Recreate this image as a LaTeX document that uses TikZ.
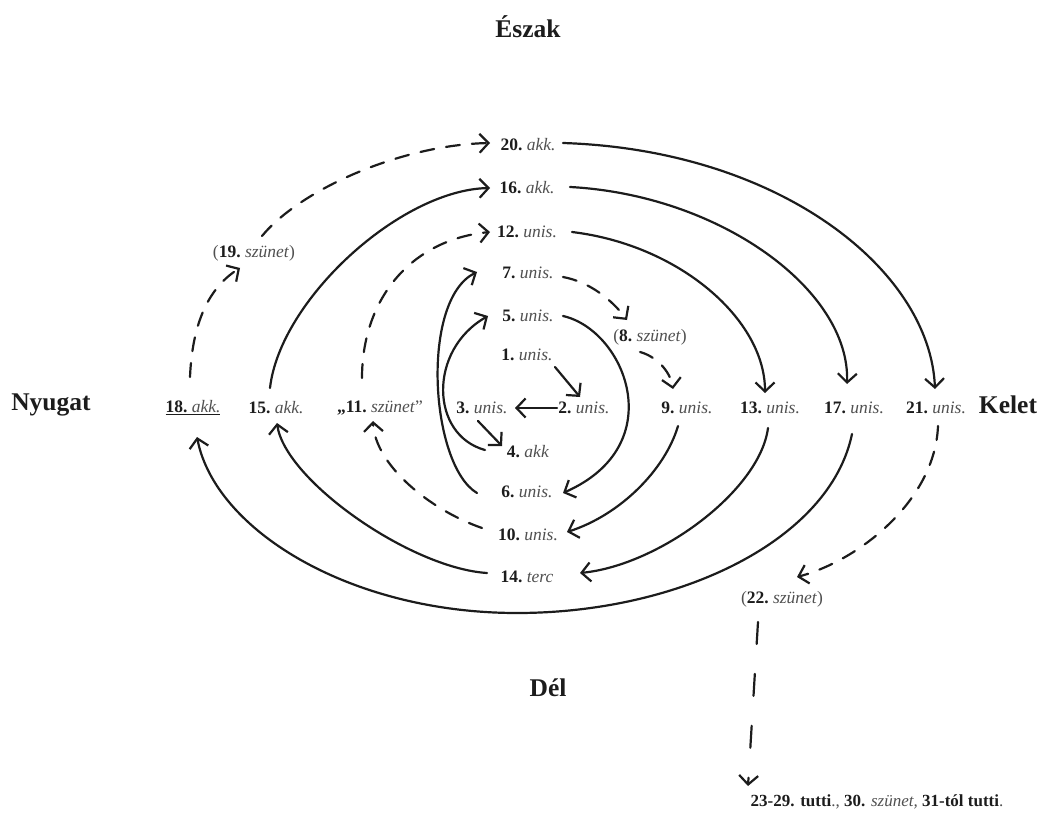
\documentclass[tikz,border=0pt]{standalone}
\usepackage{fontspec}
\setmainfont{Liberation Serif}
\usetikzlibrary{arrows.meta}
\definecolor{ink}{RGB}{28,28,28}
\definecolor{word}{RGB}{80,80,80}
% bold number followed by an italic word
\newcommand\lbl[2]{\textbf{#1}~{\color{word}\textit{#2}}}
% a rest, written in parentheses
\newcommand\rest[1]{{\color{word}(}\textbf{#1}~{\color{word}\textit{szünet})}}
\begin{document}
\begin{tikzpicture}[x=1pt,y=-1pt,
  lab/.style={inner sep=1pt, font=\fontsize{17.5}{20}\selectfont, text=ink},
  compass/.style={inner sep=1pt, font=\fontsize{25.5}{30}\selectfont\bfseries, text=ink},
  con/.style={line width=2.2pt, draw=ink, line cap=round, -{Straight Barb[length=9pt,width=19pt]}},
  gap/.style={con, dash pattern=on 14pt off 12pt},
  longgap/.style={con, dash pattern=on 22pt off 30pt}]
\useasboundingbox (0,0) rectangle (1044,821);

% compass points
\node[compass] (north) at (528,27) {Észak};
\node[compass] (west)  at (51,405) {Nyugat};
\node[compass] (east)  at (1008,405) {Kelet};
\node[compass] (south) at (548,688) {Dél};

% middle row
\node[lab] (n18) at (193,408) {\underline{\lbl{18.}{akk.}}};
\node[lab] (n15) at (276,408) {\lbl{15.}{akk.}};
\node[lab] (n11) at (380,408) {\textbf{„11.}~{\color{word}\textit{szünet}”}};
\node[lab] (n3)  at (482,408) {\lbl{3.}{unis.}};
\node[lab] (n2)  at (584,408) {\lbl{2.}{unis.}};
\node[lab] (n9)  at (687,408) {\lbl{9.}{unis.}};
\node[lab] (n13) at (770,408) {\lbl{13.}{unis.}};
\node[lab] (n17) at (854,408) {\lbl{17.}{unis.}};
\node[lab] (n21) at (936,408) {\lbl{21.}{unis.}};

% upper column
\node[lab] (n20) at (528,145) {\lbl{20.}{akk.}};
\node[lab] (n16) at (527,188) {\lbl{16.}{akk.}};
\node[lab] (n12) at (527,232) {\lbl{12.}{unis.}};
\node[lab] (n7)  at (528,273) {\lbl{7.}{unis.}};
\node[lab] (n5)  at (528,316) {\lbl{5.}{unis.}};
\node[lab] (n1)  at (527,355) {\lbl{1.}{unis.}};
\node[lab] (n8)  at (650,337) {\rest{8.}};
\node[lab] (n19) at (254,253) {\rest{19.}};

% lower column
\node[lab] (n4)  at (528,452) {\lbl{4.}{akk}};
\node[lab] (n6)  at (527,492) {\lbl{6.}{unis.}};
\node[lab] (n10) at (528,535) {\lbl{10.}{unis.}};
\node[lab] (n14) at (527,577) {\lbl{14.}{terc}};
\node[lab] (n22) at (782,599) {\rest{22.}};
\node[lab, font=\fontsize{17}{20}\selectfont] (nend) at (877,802)
  {\textbf{23-29. tutti}{\color{word}.,} \textbf{30.} {\color{word}\textit{szünet,}} \textbf{31-tól tutti}{\color{word}.}};

% connectors, in playing order
\draw[con] ([shift={(28,12)}]n1.center) -- ([shift={(-4,-11)}]n2.center);
\draw[con] ([shift={(-27,0)}]n2.center) -- ([shift={(33,0)}]n3.center);
\draw[con] ([shift={(-4,13)}]n3.center) -- ([shift={(-26,-6)}]n4.center);
\draw[con] ([shift={(-43,-2)}]n4.center) .. controls (430,435) and (428,350) .. ([shift={(-40,0)}]n5.center);
\draw[con] ([shift={(35,0)}]n5.center) .. controls (625,330) and (672,445) .. ([shift={(36,1)}]n6.center);
\draw[con] ([shift={(-50,1)}]n6.center) .. controls (430,465) and (420,300) .. ([shift={(-51,-1)}]n7.center);
\draw[gap] ([shift={(35,4)}]n7.center) .. controls (590,282) and (612,300) .. ([shift={(-23,-17)}]n8.center);
\draw[gap] ([shift={(-10,15)}]n8.center) .. controls (655,356) and (670,370) .. ([shift={(-14,-19)}]n9.center);
\draw[con] ([shift={(-9,18)}]n9.center) .. controls (665,470) and (620,515) .. ([shift={(39,-3)}]n10.center);
\draw[gap] ([shift={(-46,-7)}]n10.center) .. controls (430,510) and (375,465) .. ([shift={(-7,13)}]n11.center);
\draw[gap] ([shift={(-18,-30)}]n11.center) .. controls (362,300) and (410,240) .. ([shift={(-37,0)}]n12.center);
\draw[con] ([shift={(45,0)}]n12.center) .. controls (680,245) and (765,320) .. ([shift={(-5,-15)}]n13.center);
\draw[con] ([shift={(-2,20)}]n13.center) .. controls (760,490) and (660,565) .. ([shift={(53,-4)}]n14.center);
\draw[con] ([shift={(-40,-4)}]n14.center) .. controls (410,568) and (285,480) .. ([shift={(1,15)}]n15.center);
\draw[con] ([shift={(-6,-20)}]n15.center) .. controls (280,300) and (400,190) .. ([shift={(-37,0)}]n16.center);
\draw[con] ([shift={(43,-1)}]n16.center) .. controls (720,195) and (850,290) .. ([shift={(-7,-24)}]n17.center);
\draw[con] ([shift={(-2,26)}]n17.center) .. controls (830,540) and (680,613) .. (517,613)
  .. controls (350,613) and (215,530) .. ([shift={(4,29)}]n18.center);
\draw[gap] ([shift={(-3,-31)}]n18.center) .. controls (192,330) and (205,290) .. ([shift={(-14,15)}]n19.center);
\draw[gap] ([shift={(8,-17)}]n19.center) .. controls (300,190) and (400,145) .. ([shift={(-38,-2)}]n20.center);
\draw[con] ([shift={(35,-2)}]n20.center) .. controls (780,150) and (930,270) .. ([shift={(-1,-19)}]n21.center);
\draw[gap] ([shift={(2,18)}]n21.center) .. controls (935,500) and (860,560) .. ([shift={(15,-22)}]n22.center);
\draw[longgap] ([shift={(-24,23)}]n22.center) -- ([shift={(-129,-16)}]nend.center);
\end{tikzpicture}
\end{document}
